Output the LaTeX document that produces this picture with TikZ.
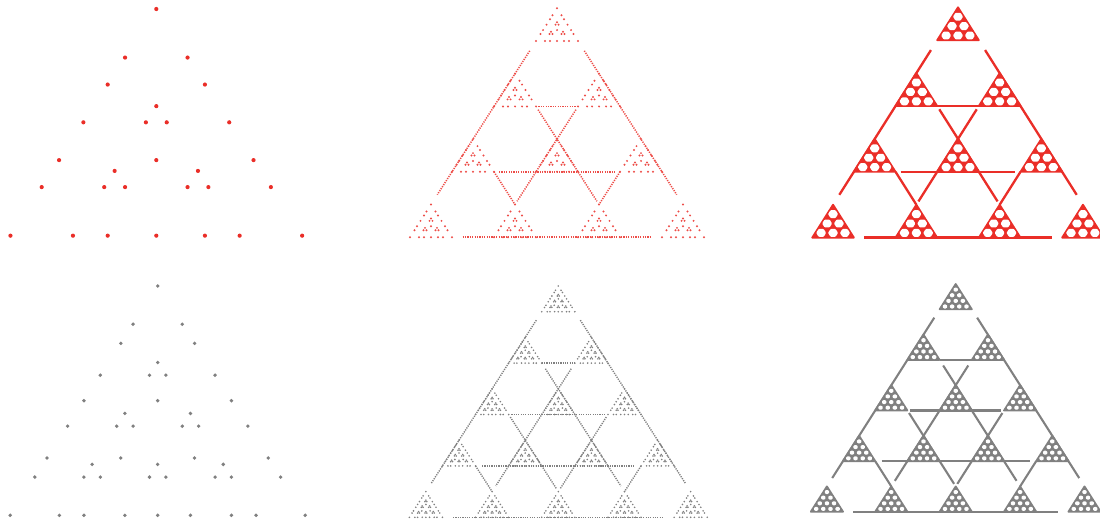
\documentclass[tikz,border=0pt]{standalone}
\usetikzlibrary{calc}
\definecolor{fred}{RGB}{234,46,40}
\definecolor{fgray}{RGB}{128,128,128}
\tikzset{
  bigdotR/.style={fill=fred},
  bigdotG/.style={fill=fgray},
  smalldotR/.style={fill=fred!85},
  smalldotG/.style={fill=fgray},
  dotlineR/.style={draw=fred!85, line width=0.38mm, dash pattern=on 0.3mm off 0.3mm},
  dotlineG/.style={draw=fgray, line width=0.35mm, dash pattern=on 0.3mm off 0.28mm},
  solidR/.style={draw=fred, line width=0.58mm},
  solidG/.style={draw=fgray, line width=0.52mm},
}
\def\patA{0/0,1.5/0,1.5/1.5,2.3333/0,2.3333/2.3333,3/1.5,3.5/0,3.5/1.5,3.5/2,3.5/3.5,4.6667/0,4.6667/2.3333,4.6667/4.6667,5/1.5,5/3.5,5.5/0,5.5/1.5,5.5/2,5.5/3.5,5.5/4,5.5/5.5,7/0,7/1.5,7/2.3333,7/3.5,7/4.6667,7/5.5,7/7}
\def\patB{0/0,1.5/0,1.5/1.5,2.25/0,2.25/2.25,3/1.5,3.5/0,3.5/1.5,3.5/2,3.5/3.5,4.5/0,4.5/2.25,4.5/4.5,5/1.5,5/3.5,5.5/0,5.5/1.5,5.5/2,5.5/3.5,5.5/4,5.5/5.5,6.75/0,6.75/2.25,6.75/4.5,6.75/6.75,7/1.5,7/3.5,7/5.5,7.5/0,7.5/1.5,7.5/2,7.5/3.5,7.5/4,7.5/5.5,7.5/6,7.5/7.5,9/0,9/1.5,9/2.25,9/3.5,9/4.5,9/5.5,9/6.75,9/7.5,9/9}
\def\linesA{1/0/6/0/0.3,3/2/6/2/0.1,5/4/6/4/0,1/1/6/6/0.3,3/1/6/4/0.1,5/1/6/2/0,3/1/3/2/0,5/1/5/4/0.12,7/1/7/6/0.25}
\def\linesB{1/0/8/0/0.33,3/2/8/2/0.22,5/4/8/4/0.1,7/6/8/6/0,1/1/8/8/0.33,3/1/8/6/0.22,5/1/8/4/0.1,7/1/8/2/0,3/1/3/2/0,5/1/5/4/0.08,7/1/7/6/0.2,9/1/9/8/0.32}
\newcommand{\setpanel}[4]{\def\PX{#1}\def\PY{#2}\def\PU{#3}\def\PV{#4}}
\newcommand{\latpt}[3]{\coordinate (#3) at ({\PX+((#2)-(#1)/2)*\PU},{\PY+(#1)*\PV});}
\newcommand{\drawlines}[2]{%
  \foreach \ma/\ca/\mb/\cb/\g in #1 {%
    \pgfmathsetmacro\len{max(abs(\mb-\ma),abs(\cb-\ca))}%
    \pgfmathsetmacro\fa{\g/\len}%
    \latpt{\ma}{\ca}{P}\latpt{\mb}{\cb}{Q}%
    \draw[#2] ($(P)!\fa!(Q)$) -- ($(Q)!\fa!(P)$);
  }}
\newcommand{\holetri}[5]{%
  \latpt{#1}{#2}{A}\latpt{#1+1}{#2}{B}\latpt{#1+1}{#2+1}{C}%
  \filldraw[fill=#4,draw=#4,line width=0.45mm,line join=round] (A)--(B)--(C)--cycle;
  \pgfmathtruncatemacro\nn{#3-2}%
  \pgfmathsetmacro\NN{2*#3-1}%
  \pgfmathsetmacro\hw{#5*\PU/\NN}%
  \pgfmathsetmacro\hv{#5*\PV/\NN}%
  \foreach \kk in {0,...,\nn}{\foreach \jj in {0,...,\kk}{%
    \latpt{#1+(2*\kk+2)/\NN}{#2+(2*\jj+1)/\NN}{H}%
    \fill[white,rounded corners=0.2mm] ($(H)+(\hw,0)$) -- ($(H)+(0.5*\hw,\hv)$) -- ($(H)+(-0.5*\hw,\hv)$) -- ($(H)+(-\hw,0)$) -- ($(H)+(-0.5*\hw,-\hv)$) -- ($(H)+(0.5*\hw,-\hv)$) -- cycle;
  }}}
\begin{document}
\begin{tikzpicture}[x=0.25mm,y=-0.25mm]
\useasboundingbox (0,0) rectangle (1100,520);
% panel 1
\setpanel{156.3}{9}{41.67}{32.38}
\foreach \m/\c in \patA {\latpt{\m}{\c}{p}\fill[bigdotR] (p) circle[radius=2.1];}
% panel 2
\setpanel{557}{8.3}{42}{32.7}
\drawlines{\linesA}{dotlineR}
\foreach \k in {0,...,3}{\foreach \j in {0,...,\k}{\foreach \m/\c in \patA{%
  \latpt{2*\k+\m/7}{2*\j+\c/7}{p}\fill[smalldotR] (p) circle[radius=1.1];}}}
% panel 3
\setpanel{958}{7.3}{41.65}{32.9}
\drawlines{\linesA}{solidR}
\foreach \k in {0,...,3}{\foreach \j in {0,...,\k}{\holetri{2*\k}{2*\j}{4}{fred}{0.84}}}
% panel 4
\setpanel{157.7}{286}{32.78}{25.48}
\foreach \m/\c in \patB {\latpt{\m}{\c}{p}\fill[bigdotG] (p) circle[radius=1.9];}
% panel 5
\setpanel{558.3}{286}{33.1}{25.7}
\drawlines{\linesB}{dotlineG}
\foreach \k in {0,...,4}{\foreach \j in {0,...,\k}{\foreach \m/\c in \patB{%
  \latpt{2*\k+\m/9}{2*\j+\c/9}{p}\fill[smalldotG] (p) circle[radius=0.9];}}}
% panel 6
\setpanel{955.7}{284}{32.2}{25.3}
\drawlines{\linesB}{solidG}
\foreach \k in {0,...,4}{\foreach \j in {0,...,\k}{\holetri{2*\k}{2*\j}{5}{fgray}{0.72}}}
\end{tikzpicture}
\end{document}
